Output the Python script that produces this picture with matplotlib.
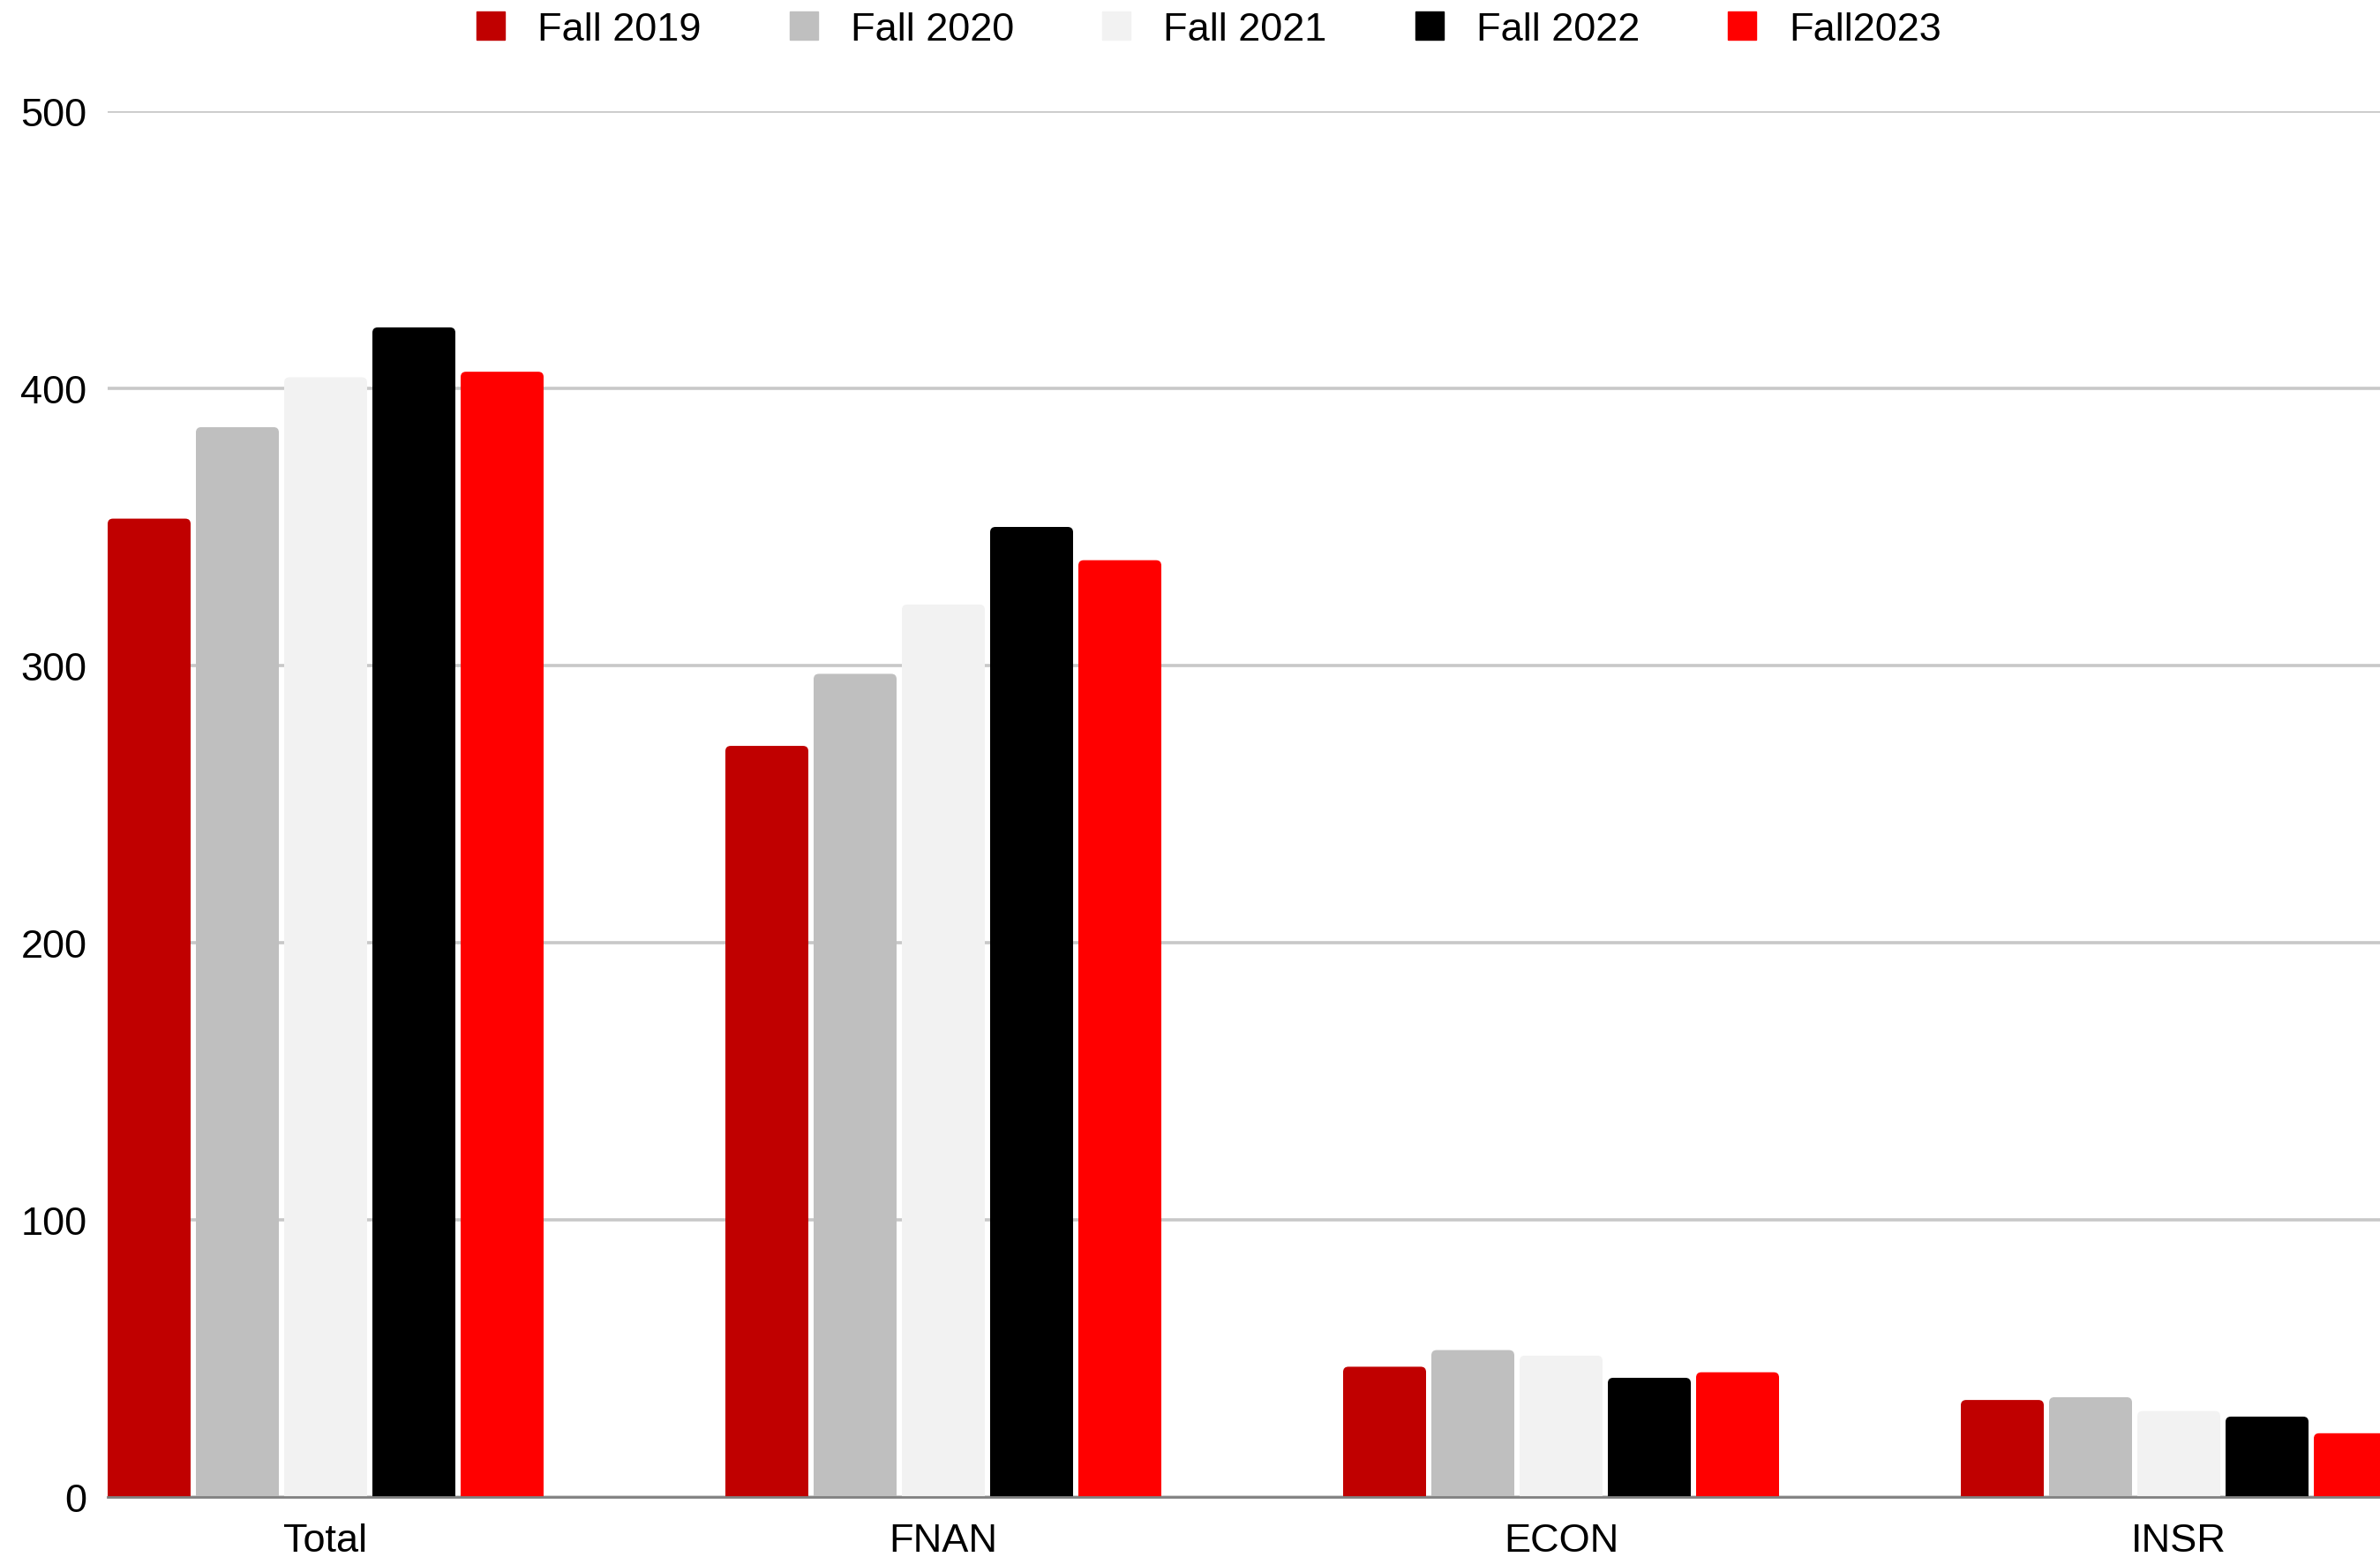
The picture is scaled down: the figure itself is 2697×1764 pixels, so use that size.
import numpy as np
import matplotlib
matplotlib.use("Agg")
import matplotlib.pyplot as plt
from matplotlib.lines import Line2D
from matplotlib.patches import FancyBboxPatch

plt.rcParams['font.family'] = ['Liberation Sans', 'DejaVu Sans']

# data
categories = ['Total', 'FNAN', 'ECON', 'INSR']
series_names = ['Fall 2019', 'Fall 2020', 'Fall 2021', 'Fall 2022', 'Fall2023']
fall_2019 = [353, 271, 47, 35]
fall_2020 = [386, 297, 53, 36]
fall_2021 = [404, 322, 51, 31]
fall_2022 = [422, 350, 43, 29]
fall_2023 = [406, 338, 45, 23]
y_ticks = [0, 100, 200, 300, 400, 500]

series = [fall_2019, fall_2020, fall_2021, fall_2022, fall_2023]
colors = ['#c00000', '#bfbfbf', '#f2f2f2', '#000000', '#ff0000']

W, H = 2697, 1765
fig = plt.figure(figsize=(W / 100, H / 100), dpi=100)

# plot area (pixels measured on the reference)
left_px, right_px, top_px, bottom_px = 122, 2697, 127, 1697
ax = fig.add_axes([left_px / W, (H - bottom_px) / H,
                   (right_px - left_px) / W, (bottom_px - top_px) / H])

group_px = 700.0
pitch = 100 / group_px
width = 94 / group_px
x = np.arange(len(categories))

# rounded top corners, ~6 px radius
px_per_y = (bottom_px - top_px) / 500.0
rx = 6 / group_px
ry = 6 / px_per_y

for j, (vals, col) in enumerate(zip(series, colors)):
    bars = ax.bar(x + (j - 2) * pitch, vals, width=width, color=col, zorder=2, linewidth=0)
    for r in bars:
        r.set_visible(False)
        p = FancyBboxPatch((r.get_x(), -ry), r.get_width(), r.get_height() + ry,
                           boxstyle=f"round,pad=0,rounding_size={rx}",
                           mutation_aspect=ry / rx, facecolor=col,
                           linewidth=0, zorder=2)
        ax.add_patch(p)

x_left = -2 * pitch - width / 2
ax.set_xlim(x_left, x_left + (right_px - left_px) / group_px)
ax.set_ylim(0, 500)

ax.set_yticks(y_ticks)
ax.set_xticks(x)
ax.set_xticklabels(categories)
ax.tick_params(axis='both', length=0, labelsize=32.5, colors='black')
ax.tick_params(axis='y', pad=17)
ax.tick_params(axis='x', pad=21)

ax.grid(axis='y', color='#c8c8c8', linewidth=2.6, zorder=1)
ax.set_axisbelow(True)
ax.axhline(0, color='#808080', linewidth=2.0, zorder=3, clip_on=False)
for s in ax.spines.values():
    s.set_visible(False)

handles = [Line2D([], [], marker='s', linestyle='none', markersize=23.5,
                  markerfacecolor=c, markeredgecolor=c) for c in colors]
fs = 32.5 * 100 / 72
fig.legend(handles, series_names, loc='center left',
           bbox_to_anchor=(533.5 / W, 1 - 34 / H), ncol=5, frameon=False,
           fontsize=32.5, handlelength=1.0, handletextpad=30.5 / fs,
           columnspacing=93.5 / fs, borderpad=0, borderaxespad=0)

fig.savefig('out.png', dpi=100, facecolor='white')
